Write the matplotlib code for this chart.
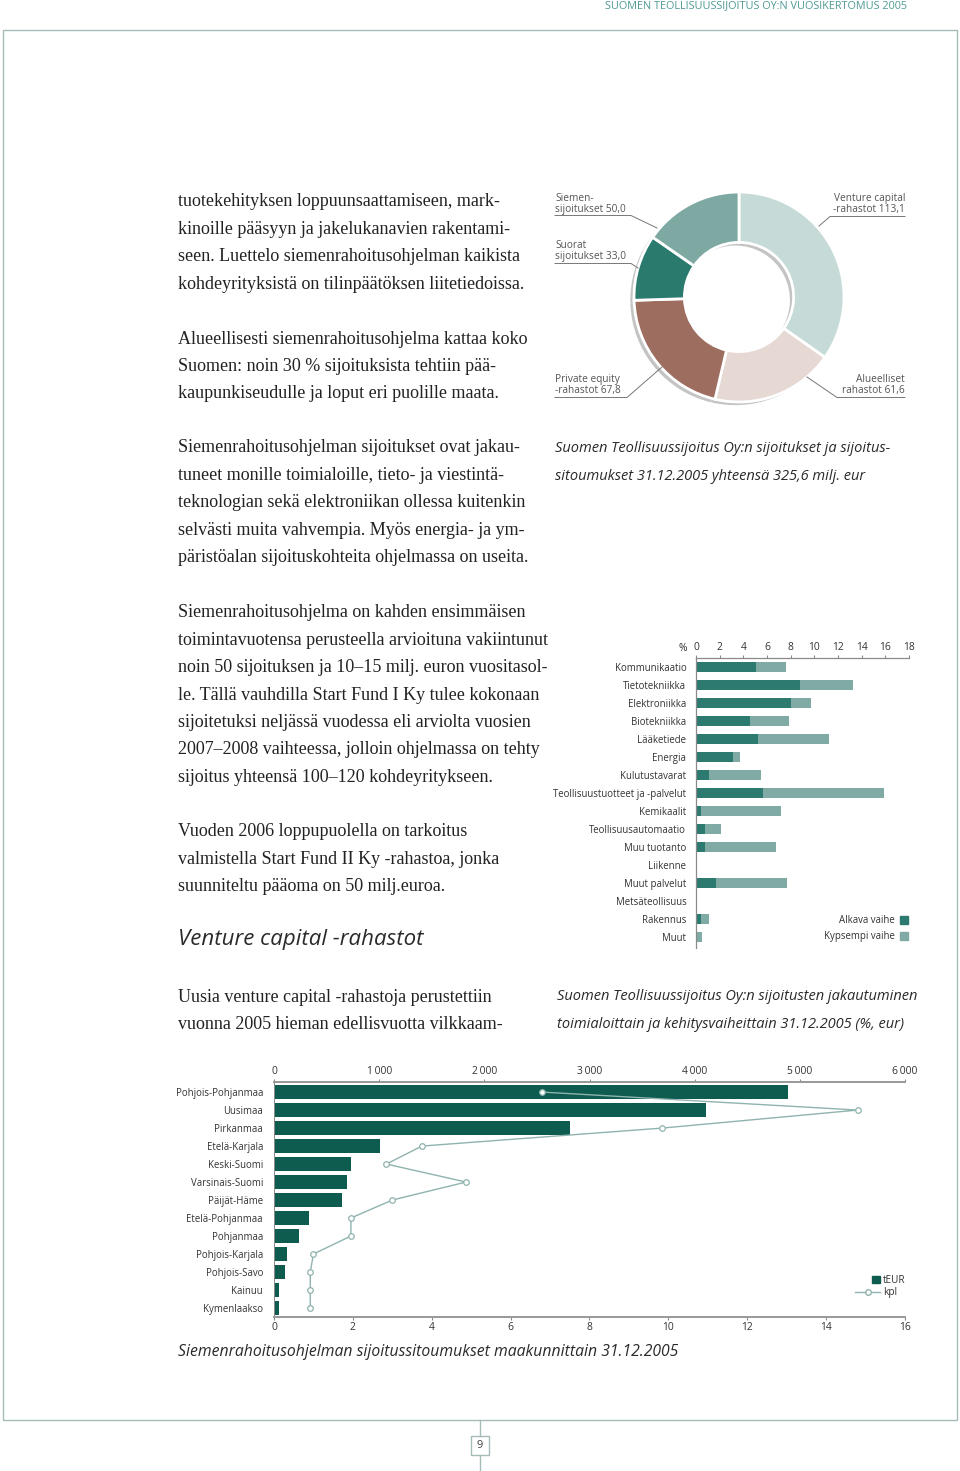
import numpy as np
import matplotlib
matplotlib.use("Agg")
import matplotlib.pyplot as plt
from matplotlib.lines import Line2D
from matplotlib.patches import Rectangle, Patch
from matplotlib.legend_handler import HandlerPatch

W, H = 960, 1471

# donut: investments and commitments 31.12.2005 (milj. eur)
pie_labels = ["Venture capital\n-rahastot 113,1", "Alueelliset\nrahastot 61,6",
              "Private equity\n-rahastot 67,8", "Suorat\nsijoitukset 33,0",
              "Siemen-\nsijoitukset 50,0"]
pie_vals = [113.1, 61.6, 67.8, 33.0, 50.0]
pie_colors = ["#c6dbd8", "#e6d8d2", "#9d6d60", "#2a7a6e", "#7ea8a2"]

# sectors (%), early stage / later stage
sectors = ["Kommunikaatio", "Tietotekniikka", "Elektroniikka", "Biotekniikka",
           "Lääketiede", "Energia", "Kulutustavarat", "Teollisuustuotteet ja -palvelut",
           "Kemikaalit", "Teollisuusautomaatio", "Muu tuotanto", "Liikenne",
           "Muut palvelut", "Metsäteollisuus", "Rakennus", "Muut"]
alkava = [5.1, 8.8, 8.0, 4.6, 5.2, 3.1, 1.1, 5.7, 0.4, 0.8, 0.8, 0.0, 1.7, 0.05, 0.4, 0.0]
kypsempi = [2.5, 4.5, 1.7, 3.3, 6.0, 0.6, 4.4, 10.2, 6.8, 1.3, 6.0, 0.05, 6.0, 0.0, 0.7, 0.5]

# regions: commitments tEUR and number of investments (kpl)
regions = ["Pohjois-Pohjanmaa", "Uusimaa", "Pirkanmaa", "Etelä-Karjala", "Keski-Suomi",
           "Varsinais-Suomi", "Päijät-Häme", "Etelä-Pohjanmaa", "Pohjanmaa",
           "Pohjois-Karjala", "Pohjois-Savo", "Kainuu", "Kymenlaakso"]
teur = [4890, 4110, 2810, 1005, 735, 690, 650, 330, 240, 125, 100, 50, 50]
kpl = [6.8, 14.8, 9.85, 3.75, 2.85, 4.87, 3.0, 1.95, 1.95, 1.0, 0.92, 0.92, 0.92]

body = [
    (202, ["tuotekehityksen loppuunsaattamiseen, mark-",
           "kinoille pääsyyn ja jakelukanavien rakentami-",
           "seen. Luettelo siemenrahoitusohjelman kaikista",
           "kohdeyrityksistä on tilinpäätöksen liitetiedoissa."]),
    (339, ["Alueellisesti siemenrahoitusohjelma kattaa koko",
           "Suomen: noin 30 % sijoituksista tehtiin pää-",
           "kaupunkiseudulle ja loput eri puolille maata."]),
    (448, ["Siemenrahoitusohjelman sijoitukset ovat jakau-",
           "tuneet monille toimialoille, tieto- ja viestintä-",
           "teknologian sekä elektroniikan ollessa kuitenkin",
           "selvästi muita vahvempia. Myös energia- ja ym-",
           "päristöalan sijoituskohteita ohjelmassa on useita."]),
    (613, ["Siemenrahoitusohjelma on kahden ensimmäisen",
           "toimintavuotensa perusteella arvioituna vakiintunut",
           "noin 50 sijoituksen ja 10–15 milj. euron vuositasol-",
           "le. Tällä vauhdilla Start Fund I Ky tulee kokonaan",
           "sijoitetuksi neljässä vuodessa eli arviolta vuosien",
           "2007–2008 vaihteessa, jolloin ohjelmassa on tehty",
           "sijoitus yhteensä 100–120 kohdeyritykseen."]),
    (832, ["Vuoden 2006 loppupuolella on tarkoitus",
           "valmistella Start Fund II Ky -rahastoa, jonka",
           "suunniteltu pääoma on 50 milj.euroa."]),
    (997, ["Uusia venture capital -rahastoja perustettiin",
           "vuonna 2005 hieman edellisvuotta vilkkaam-"]),
]

plt.rcParams['font.family'] = ['Open Sans', 'DejaVu Sans']
SERIF = 'Liberation Serif'
TXT = '#222222'
GREY = '#555555'
AXC = '#8a8a8a'


def fx(x):
    return x / W


def fy(y):
    return 1 - y / H


def box(x, y, w, h):
    return [x / W, 1 - (y + h) / H, w / W, h / H]


def fline(xs, ys, color='#777777', lw=0.7):
    fig.add_artist(Line2D([fx(v) for v in xs], [fy(v) for v in ys],
                          transform=fig.transFigure, color=color, lw=lw))


fig = plt.figure(figsize=(W / 100, H / 100), dpi=100)

# page furniture
fig.text(fx(907), fy(6), "SUOMEN TEOLLISUUSSIJOITUS OY:N VUOSIKERTOMUS 2005",
         ha='right', va='center', fontsize=7.8, color='#4f9a94')
fig.add_artist(Rectangle((fx(3), fy(1420)), fx(954), 1390 / H, transform=fig.transFigure,
                         fill=False, ec='#a6bcb9', lw=1))
fig.add_artist(Rectangle((fx(471), fy(1455)), fx(18), 19 / H, transform=fig.transFigure,
                         fill=False, ec='#a6bcb9', lw=1))
fline([480, 480], [1420, 1436], color='#a6bcb9', lw=1)
fline([480, 480], [1455, 1471], color='#a6bcb9', lw=1)
fig.text(fx(480), fy(1445.5), "9", ha='center', va='center', fontsize=8, color='#444444')

# body text (ragged right, as in the page)
for y0, lines in body:
    for i, line in enumerate(lines):
        fig.text(fx(178), fy(y0 + i * 27.4), line, ha='left', va='center',
                 fontsize=13.0, family=SERIF, color=TXT)

fig.text(fx(178), fy(939), "Venture capital -rahastot", ha='left', va='center',
         fontsize=16, style='italic', color='#2a2a2a')

# captions
cap = dict(ha='left', va='center', style='italic', color='#2a2a2a')
fig.text(fx(555), fy(449), "Suomen Teollisuussijoitus Oy:n sijoitukset ja sijoitus-",
         fontsize=10.5, **cap)
fig.text(fx(555), fy(476), "sitoumukset 31.12.2005 yhteensä 325,6 milj. eur",
         fontsize=10.5, **cap)
fig.text(fx(557), fy(997), "Suomen Teollisuussijoitus Oy:n sijoitusten jakautuminen",
         fontsize=10.5, **cap)
fig.text(fx(557), fy(1024), "toimialoittain ja kehitysvaiheittain 31.12.2005 (%, eur)",
         fontsize=10.5, **cap)
fig.text(fx(178), fy(1352), "Siemenrahoitusohjelman sijoitussitoumukset maakunnittain 31.12.2005",
         fontsize=11.3, **cap)

# ---- donut ----
ax_d = fig.add_axes(box(613, 171, 252, 252))
ax_d.pie(pie_vals, radius=1, center=(-0.035, -0.03), colors=['#c4c4c4'] * len(pie_vals),
         startangle=90, counterclock=False, wedgeprops=dict(width=0.48, edgecolor='none'))
ax_d.pie(pie_vals, radius=1, colors=pie_colors, startangle=90, counterclock=False,
         wedgeprops=dict(width=0.48, edgecolor='white', linewidth=2))
ax_d.set_xlim(-1.2, 1.2)
ax_d.set_ylim(-1.2, 1.2)
ax_d.set_aspect('equal')
ax_d.axis('off')

lab = dict(fontsize=7.3, color=GREY, linespacing=1.05)
fig.text(fx(555), fy(204), pie_labels[4], ha='left', va='center', **lab)
fline([555, 631, 657], [215.5, 215.5, 228])
fig.text(fx(555), fy(251), pie_labels[3], ha='left', va='center', **lab)
fline([555, 631, 638], [263.5, 263.5, 268])
fig.text(fx(555), fy(385), pie_labels[2], ha='left', va='center', **lab)
fline([555, 627, 662], [397.5, 397.5, 367])
fig.text(fx(905), fy(204), pie_labels[0], ha='right', va='center', **lab)
fline([905, 830, 819], [216.5, 216.5, 226])
fig.text(fx(905), fy(385), pie_labels[1], ha='right', va='center', **lab)
fline([905, 837, 807], [397.5, 397.5, 377])

# ---- sector bars ----
dark = '#2c7a70'
light = '#80aba5'
ax_b = fig.add_axes(box(696, 658, 213, 290))
yb = np.arange(len(sectors))
ax_b.barh(yb, alkava, height=0.56, color=dark, label='Alkava vaihe')
ax_b.barh(yb, kypsempi, left=alkava, height=0.56, color=light, label='Kypsempi vaihe')
ax_b.set_xlim(0, 18)
ax_b.set_ylim(15.6, -0.5)
ax_b.xaxis.tick_top()
ax_b.set_xticks(range(0, 19, 2))
ax_b.set_yticks(yb)
ax_b.set_yticklabels(sectors)
ax_b.tick_params(axis='y', length=0, pad=7, labelsize=6.9, labelcolor='#333333')
ax_b.tick_params(axis='x', length=2.5, width=0.8, color=AXC, pad=1, labelsize=7.4,
                 labelcolor='#333333')
for s in ['right', 'bottom']:
    ax_b.spines[s].set_visible(False)
for s in ['top', 'left']:
    ax_b.spines[s].set_color(AXC)
    ax_b.spines[s].set_linewidth(0.9)
fig.text(fx(687), fy(649), "%", ha='right', va='center', fontsize=7.4, color='#333333')
ax_b.legend(handles=[Patch(color=dark, label='Alkava vaihe'),
                     Patch(color=light, label='Kypsempi vaihe')],
            loc='lower right', bbox_to_anchor=(fx(913), fy(947)),
            bbox_transform=fig.transFigure, markerfirst=False, frameon=False,
            fontsize=6.9, handlelength=0.9, handleheight=0.9, handletextpad=0.5,
            labelspacing=0.55, borderpad=0, labelcolor='#333333')

# ---- regional bars + count line ----
reg_dark = '#0e5b4f'
kpl_col = '#8fb3ae'
ax_r = fig.add_axes(box(274, 1082, 631, 235))
yr = np.arange(len(regions))
ax_r.barh(yr, teur, height=0.8, color=reg_dark)
ax_r.set_xlim(0, 6000)
ax_r.set_ylim(12.5, -0.56)
ax_r.set_yticks(yr)
ax_r.set_yticklabels(regions)
ax_r.tick_params(axis='y', length=0, pad=8, labelsize=6.9, labelcolor='#333333')

ax_k = ax_r.twiny()
ax_k.plot(kpl, yr, color=kpl_col, lw=1.0, marker='o', ms=4, mfc='white',
          mec=kpl_col, mew=0.9)
ax_k.set_xlim(0, 16)
ax_k.set_ylim(12.5, -0.56)
ax_k.xaxis.set_ticks_position('bottom')
ax_k.xaxis.set_label_position('bottom')
ax_k.set_xticks(range(0, 17, 2))

ax_r.xaxis.set_ticks_position('top')
ax_r.xaxis.set_label_position('top')
ax_r.set_xticks(range(0, 6001, 1000))
ax_r.set_xticklabels(['0', '1\u2009000', '2\u2009000', '3\u2009000', '4\u2009000',
                      '5\u2009000', '6\u2009000'])
for a in (ax_r, ax_k):
    a.tick_params(axis='x', length=2.5, width=0.8, color=AXC, pad=1, labelsize=7.4,
                  labelcolor='#333333')
    a.spines['right'].set_visible(False)
    a.spines['left'].set_color(AXC)
    a.spines['left'].set_linewidth(0.7)
    for s in ['top', 'bottom']:
        a.spines[s].set_color('#9a9a9a')
        a.spines[s].set_linewidth(1.3)


def right_square(legend, orig_handle, xdescent, ydescent, width, height, fontsize):
    s = height * 1.1
    return Rectangle((width - s - xdescent, -ydescent - 0.05 * height), s, s)


ax_k.legend(handles=[Patch(color=reg_dark, label='tEUR'),
                     Line2D([], [], color=kpl_col, lw=1.0, marker='o', ms=4,
                            mfc='white', mec=kpl_col, label='kpl')],
            handler_map={Patch: HandlerPatch(patch_func=right_square)},
            loc='upper left', bbox_to_anchor=(fx(850), fy(1270)),
            bbox_transform=fig.transFigure, frameon=False, fontsize=7.2,
            handlelength=2.5, handletextpad=0.3, labelspacing=0.15, borderpad=0,
            labelcolor='#333333')

fig.savefig('out.png', dpi=100)
